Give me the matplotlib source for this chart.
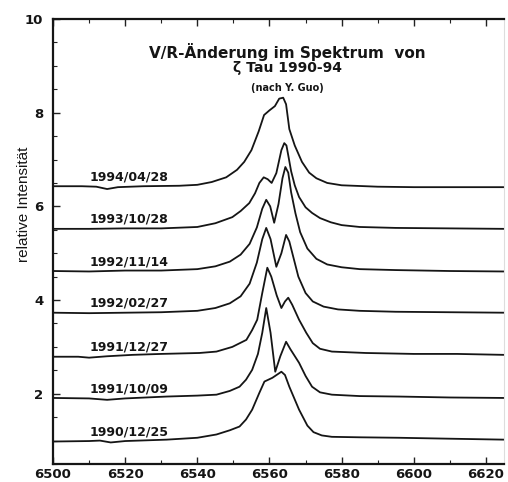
import matplotlib
matplotlib.use("Agg")
import matplotlib.pyplot as plt
from matplotlib.ticker import MultipleLocator

# ---- data ----
dates = ["1994/04/28", "1993/10/28", "1992/11/14", "1992/02/27",
         "1991/12/27", "1991/10/09", "1990/12/25"]

wl_1994 = [6500, 6508, 6512, 6515, 6518, 6525, 6535, 6540, 6544, 6548, 6551, 6553, 6555, 6557,
           6558.5, 6560, 6561.5, 6562.7, 6563.8, 6564.6, 6565.5, 6567, 6569, 6571, 6573, 6576,
           6580, 6590, 6600, 6612, 6625]
in_1994 = [6.43, 6.43, 6.42, 6.37, 6.41, 6.43, 6.44, 6.46, 6.52, 6.62, 6.78, 6.95, 7.2, 7.6,
           7.95, 8.05, 8.14, 8.3, 8.32, 8.18, 7.65, 7.3, 6.95, 6.72, 6.6, 6.5,
           6.45, 6.42, 6.41, 6.41, 6.41]

wl_1993 = [6500, 6510, 6520, 6530, 6540, 6545, 6549.7, 6552, 6554.4, 6556, 6557.2, 6558.4, 6559.5,
           6560.6, 6561.9, 6563.3, 6564.1, 6564.7, 6565.3, 6566, 6567, 6568.2, 6570, 6571.8, 6574,
           6577, 6580, 6585, 6595, 6610, 6625]
in_1993 = [5.52, 5.52, 5.53, 5.53, 5.56, 5.64, 5.77, 5.9, 6.07, 6.28, 6.5, 6.62, 6.58,
           6.5, 6.71, 7.2, 7.35, 7.3, 7.05, 6.75, 6.45, 6.2, 5.98, 5.86, 5.75,
           5.66, 5.6, 5.56, 5.54, 5.53, 5.52]

wl_1992b = [6500, 6510, 6520, 6530, 6540, 6545, 6549, 6552, 6554.5, 6556.5, 6558, 6559.1, 6560.2,
            6561.3, 6562.5, 6563.6, 6564.4, 6565.2, 6566, 6567.2, 6568.5, 6570.5, 6573, 6576,
            6580, 6585, 6595, 6610, 6625]
in_1992b = [4.62, 4.61, 4.63, 4.63, 4.66, 4.72, 4.82, 4.97, 5.2, 5.55, 5.95, 6.14, 6.0,
            5.65, 6.05, 6.6, 6.84, 6.72, 6.3, 5.85, 5.45, 5.1, 4.88, 4.76,
            4.7, 4.66, 4.64, 4.62, 4.61]

wl_1992a = [6500, 6510, 6520, 6530, 6540, 6545, 6549, 6552, 6554.5, 6556.5, 6558, 6559.1, 6560.3,
            6561.9, 6563.3, 6564.6, 6565.5, 6566.5, 6568, 6570, 6572, 6575, 6579, 6585, 6595,
            6610, 6625]
in_1992a = [3.73, 3.72, 3.73, 3.74, 3.77, 3.83, 3.93, 4.08, 4.35, 4.8, 5.3, 5.54, 5.3,
            4.71, 5.0, 5.39, 5.25, 4.95, 4.5, 4.15, 3.97, 3.86, 3.8, 3.77, 3.75,
            3.74, 3.73]

wl_1991b = [6500, 6507, 6510, 6515, 6522, 6530, 6540.6, 6545.3, 6549.7, 6553.6, 6555.2, 6556.6,
            6558, 6559.4, 6560.5, 6562, 6563.3, 6564.3, 6565.2, 6566.3, 6568.2, 6570.2, 6572.0,
            6574.0, 6577.3, 6586.7, 6600, 6612, 6625]
in_1991b = [2.79, 2.79, 2.77, 2.8, 2.83, 2.85, 2.87, 2.9, 3.0, 3.15, 3.36, 3.58,
            4.15, 4.69, 4.5, 4.1, 3.83, 3.97, 4.05, 3.9, 3.58, 3.3, 3.08,
            2.96, 2.9, 2.87, 2.85, 2.85, 2.83]

wl_1991a = [6500, 6510, 6515, 6520, 6531.5, 6540, 6545.3, 6549, 6551.7, 6553.5, 6555.2, 6556.8,
            6558, 6559.1, 6560.3, 6561.6, 6563, 6564.6, 6565.8, 6568.2, 6570, 6571.8, 6574,
            6577.3, 6585, 6595.9, 6610, 6625]
in_1991a = [1.91, 1.9, 1.87, 1.9, 1.94, 1.96, 1.98, 2.06, 2.15, 2.3, 2.51, 2.85,
            3.3, 3.83, 3.3, 2.47, 2.8, 3.11, 2.95, 2.66, 2.38, 2.15, 2.03,
            1.98, 1.95, 1.94, 1.92, 1.91]

wl_1990 = [6500, 6510, 6513, 6516, 6520, 6531.5, 6540, 6545.3, 6549, 6551.7, 6553.5, 6555.2,
           6557.2, 6558.6, 6560.8, 6563.3, 6564.3, 6565.5, 6568.2, 6570.5, 6572.2, 6574.5,
           6577.3, 6585, 6595.9, 6610, 6625]
in_1990 = [0.98, 0.99, 1.0, 0.96, 0.99, 1.02, 1.06, 1.13, 1.22, 1.3, 1.45, 1.66,
           2.02, 2.26, 2.34, 2.47, 2.4, 2.15, 1.66, 1.32, 1.18, 1.11,
           1.08, 1.07, 1.06, 1.04, 1.02]

wavelengths = [wl_1994, wl_1993, wl_1992b, wl_1992a, wl_1991b, wl_1991a, wl_1990]
intensities = [in_1994, in_1993, in_1992b, in_1992a, in_1991b, in_1991a, in_1990]

x_ticks = [6500, 6520, 6540, 6560, 6580, 6600, 6620]
y_ticks = [2, 4, 6, 8, 10]

title1 = "V/R-Änderung im Spektrum  von"
title2 = "ζ Tau 1990-94"
title3 = "(nach Y. Guo)"
ylabel = "relative Intensität"

# ---- drawing ----
bold = dict(family="DejaVu Sans", weight="bold")

fig = plt.figure(figsize=(5.08, 4.82), dpi=100)
ax = fig.add_axes([53 / 508, 1 - 464 / 482, 451 / 508, 445 / 482])

for wl, inten, d in zip(wavelengths, intensities, dates):
    ax.plot(wl, inten, color="#151515", lw=1.3, solid_joinstyle="round")
    ax.text(6510.2, inten[0] + 0.2, d, fontsize=9, va="center", ha="left",
            color="#151515", **bold)

ax.set_xlim(6500, 6625)
ax.set_ylim(0.5, 10)
ax.set_xticks(x_ticks)
ax.set_yticks(y_ticks)
ax.xaxis.set_minor_locator(MultipleLocator(10))
ax.yaxis.set_minor_locator(MultipleLocator(0.5))
ax.tick_params(which="both", direction="in", top=True, right=False, color="#222222")
ax.tick_params(which="major", length=5, width=1.0, labelsize=9.5)
ax.tick_params(axis="x", which="major", pad=3)
ax.tick_params(axis="y", which="major", pad=7)
ax.tick_params(which="minor", length=3, width=0.8)
for lab in ax.get_xticklabels() + ax.get_yticklabels():
    lab.set_fontfamily("DejaVu Sans")
    lab.set_fontweight("bold")
    lab.set_color("#151515")

for side in ["left", "bottom", "top"]:
    ax.spines[side].set_linewidth(1.6)
    ax.spines[side].set_color("#151515")
ax.spines["right"].set_color("#dddddd")
ax.spines["right"].set_linewidth(0.8)

ax.text(6565, 9.29, title1, fontsize=11, ha="center", va="center", color="#151515", **bold)
ax.text(6565, 8.95, title2, fontsize=10, ha="center", va="center", color="#151515", **bold)
ax.text(6565, 8.52, title3, fontsize=7, ha="center", va="center", color="#151515", **bold)

fig.text(24 / 508, 1 - 204 / 482, ylabel, rotation=90, ha="center", va="center",
         fontsize=11, family=["Liberation Sans Narrow", "Liberation Sans", "DejaVu Sans"],
         color="#151515")

fig.savefig("out.png", dpi=100)
